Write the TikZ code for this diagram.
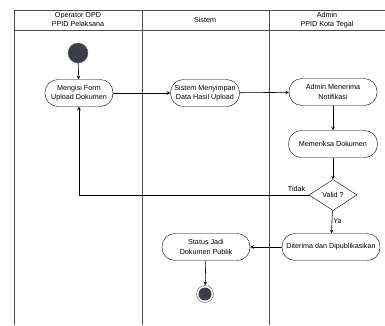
\documentclass[tikz,border=0pt]{standalone}
\usepackage{fontspec}
\setmainfont{Liberation Sans}
\usetikzlibrary{shapes.geometric}

\definecolor{darkball}{RGB}{58,62,68}

\tikzstyle{lane} = [draw,line width=0.6pt,black!70]
\tikzstyle{header} = [font=\fontsize{7.2}{9}\selectfont,align=center]
\tikzstyle{activity} = [draw,rounded corners=13pt,fill=white,align=center,minimum height=27pt,inner sep=1pt,font=\fontsize{7.2}{9.5}\selectfont]
\tikzstyle{decision} = [draw,diamond,aspect=1.55,fill=white,inner sep=1pt,minimum width=48pt,minimum height=31pt,font=\fontsize{7.2}{9}\selectfont]
\tikzstyle{label} = [font=\fontsize{7.2}{9}\selectfont]
\tikzstyle{arrowdecorate} = [->,>=stealth,line width=0.6pt]

\begin{document}
\begin{tikzpicture}[x=1pt,y=-1pt]
      \useasboundingbox (0,0) rectangle (385,325);
      % lanes
      \draw[lane] (385,10) -- (14,10) -- (14,325);
      \draw[lane] (14,30) -- (385,30);
      \draw[lane] (142,10) -- (142,325);
      \draw[lane] (269,10) -- (269,325);
      \node[header] (h1) at (78,20) {Operator OPD\\PPID Pelaksana};
      \node[header] (h2) at (205,20) {Sistem};
      \node[header] (h3) at (327,20) {Admin\\PPID Kota Tegal};
      % nodes
      \node[circle,fill=darkball,draw=black!60,minimum size=20pt,inner sep=0pt] (start) at (78,53) {};
      \foreach \nodename/\x/\y/\w/\text in {
        isi/79/93/68/{Mengisi Form\\Upload Dokumen},
        simpan/205/93/69/{Sistem Menyimpan\\Data Hasil Upload},
        terima/333/92/88/{Admin Menerima\\Notifikasi},
        periksa/333/144/89/{Memeriksa Dokumen},
        terbit/331/247/98/{Diterima dan Dipublikasikan},
        status/206/247/88/{Status Jadi\\Dokumen Publik}}
      {
        \node[activity,minimum width=\w pt] (\nodename) at (\x,\y) {\text};
      };
      \node[decision] (valid) at (333,195) {Valid ?};
      \node[circle,draw=black!70,fill=white,minimum size=17pt,inner sep=0pt] (end) at (205,294) {};
      \node[circle,fill=darkball,minimum size=13pt,inner sep=0pt] at (end) {};
      %edges
      \foreach \startnode/\endnode in {start/isi, isi/simpan, simpan/terima, terima/periksa, periksa/valid, terbit/status, status/end}
      {
        \draw[arrowdecorate] (\startnode) -- (\endnode);
      };
      \draw[arrowdecorate] (valid) -- node[label,right,pos=0.45,inner sep=1pt] {Ya} (terbit);
      \draw[arrowdecorate] (valid.west) -| (isi.south);
      \node[label,above left] (tidak) at (valid.west) {Tidak};
    \end{tikzpicture}
\end{document}
